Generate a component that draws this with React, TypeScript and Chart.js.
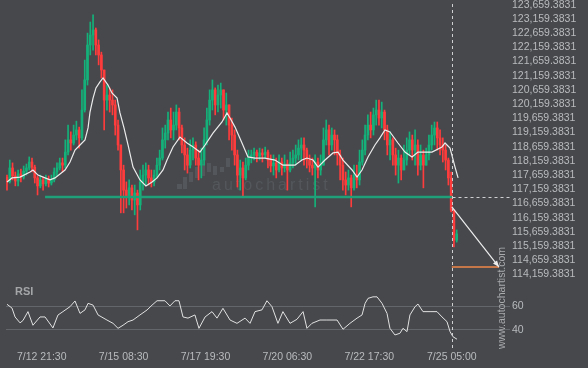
import React, { useEffect, useRef } from 'react';
import { Chart, registerables } from 'chart.js';
Chart.register(...registerables);

// ---------- DATA ----------
const CANDLE_HOURS = 2; // hours per candle, hour 0 = 7/11 20:30
const firstOpen = 117590;
const closes = [
  117420, 117910, 117630, 117450, 117700, 117590, 117800, 117910, 118120, 117940,
  117560, 117280, 117490, 117350, 117520, 117380, 117490, 117770, 117910, 118090,
  118010, 118470, 118900, 118790, 119070, 119250, 118970, 119950, 121010, 122240,
  122590, 122770, 122240, 121890, 121360, 120300, 120480, 120300, 120130, 119420,
  118720, 117840, 117130, 116920, 117210, 116780, 117030, 116610, 117420, 117660,
  117840, 117560, 117420, 117660, 118010, 118260, 118900, 119140, 119600, 119250,
  119420, 119880, 119320, 118720, 118370, 118010, 118540, 118720, 118260, 118010,
  118190, 118900, 119600, 120300, 120660, 120130, 120480, 120660, 119950, 120130,
  119420, 119070, 118370, 117660, 117910, 117560, 118010, 118260, 118370, 118470,
  118330, 118440, 118370, 118470, 118190, 117980, 118090, 117840, 118120, 117910,
  118050, 117840, 118090, 118260, 118370, 118610, 118720, 118540, 118190, 118010,
  117910, 118120, 117840, 118010, 118900, 119250, 118720, 119070, 118900, 118370,
  118010, 117490, 117310, 117560, 117210, 117660, 117490, 118120, 118540, 119070,
  119420, 119250, 119780, 119950, 119670, 119880, 119250, 118720, 118900, 118370,
  118010, 118260, 117840, 118190, 118540, 118900, 118540, 118720, 118010, 118370,
  118010, 118370, 118720, 119070, 119320, 118970, 118720, 118540, 118190, 117560,
  116430, 115370, 115590,
];
const highs = [
  117660, 118190, 118090, 117770, 117840, 117870, 117980, 118050, 118300, 118260,
  118010, 117630, 117660, 117590, 117660, 117630, 117660, 117910, 118090, 118260,
  118260, 118900, 119420, 119180, 119420, 119560, 119350, 120660, 121710, 122660,
  123050, 123300, 122840, 122420, 121990, 121360, 120830, 120730, 120660, 120300,
  119600, 118720, 118010, 117420, 117490, 117310, 117310, 117130, 117840, 118010,
  118090, 118010, 117840, 117840, 118260, 118540, 119320, 119420, 119880, 120020,
  119880, 120130, 120020, 119420, 118970, 118610, 118900, 118970, 118830, 118540,
  118610, 119320, 120020, 120660, 121010, 120730, 120830, 120900, 120590, 120550,
  120130, 119670, 119250, 118540, 118190, 118120, 118260, 118540, 118540, 118610,
  118540, 118610, 118580, 118650, 118540, 118370, 118370, 118260, 118370, 118260,
  118370, 118190, 118470, 118540, 118720, 118900, 118970, 118970, 118610, 118370,
  118260, 118370, 118260, 118370, 119320, 119600, 119420, 119320, 119250, 119070,
  118540, 118260, 117770, 117840, 117660, 118010, 118010, 118540, 118900, 119420,
  119780, 119880, 120020, 120300, 120300, 120230, 119950, 119420, 119180, 118970,
  118610, 118540, 118370, 118720, 118970, 119180, 119070, 119250, 118900, 118720,
  118540, 118610, 119070, 119420, 119530, 119530, 119250, 118970, 118720, 118260,
  117770, 116430, 115730,
];
const lows = [
  117130, 117380, 117490, 117280, 117280, 117420, 117520, 117660, 117840, 117770,
  117380, 116960, 117210, 117130, 117280, 117240, 117310, 117420, 117630, 117840,
  117770, 117910, 118370, 118540, 118720, 118900, 118610, 118900, 119880, 120830,
  121890, 122060, 121890, 121540, 121080, 119250, 119950, 119880, 119780, 119070,
  118540, 116330, 116330, 116500, 116610, 116430, 116260, 115730, 116430, 117130,
  117310, 117310, 117240, 117280, 117560, 117840, 118190, 118610, 118900, 118970,
  118900, 119250, 118900, 118440, 117840, 117730, 117910, 118190, 118010, 117490,
  117560, 118010, 118720, 119420, 119950, 119780, 119880, 120020, 119600, 119420,
  118900, 118540, 118010, 117240, 117130, 116890, 117490, 117840, 118090, 118190,
  118120, 118190, 118120, 118260, 117910, 117770, 117660, 117560, 117770, 117660,
  117770, 117130, 117770, 117910, 118010, 118190, 118190, 118010, 117910, 117770,
  117660, 116540, 117560, 117660, 118010, 118720, 118370, 118540, 118370, 118010,
  117490, 117130, 116960, 117130, 116540, 117130, 117210, 117310, 118010, 118370,
  118900, 118970, 119070, 119420, 119420, 119320, 118900, 118370, 118190, 118010,
  117660, 117380, 117490, 117910, 118010, 118370, 118190, 118010, 117660, 117840,
  117210, 118010, 118190, 118540, 118720, 118540, 118370, 118120, 117840, 117310,
  116360, 115130, 115300,
];

const maHours = [0, 3.6, 9.4, 16.6, 18.7, 22.3, 27.4, 31, 34.6, 38.2, 41.8, 45.4, 49, 52.6, 56.2, 58.4, 59.8, 62, 64.1, 67, 69.2, 72.8, 75.6, 79.3, 81.4, 84.3, 87.2, 90.8, 95.8, 100.1, 104.5, 108.1, 112.4, 115.3, 119.6, 124.6, 129.7, 133.3, 139, 142.7, 148.4, 154.9, 158.5, 160.7, 164.3, 169.3, 173.6, 178.7, 185.9, 193.1, 198.8, 207.5, 212.5, 216.1, 220.5, 224.1, 229.1, 234.9, 238.5, 242.1, 248.6, 252.2, 255.8, 260.1, 265.1, 268.7, 272.3, 275.9, 281.7, 286.7, 291.8, 296.1, 302.6, 306.2, 313.4, 315.6, 319.2, 322.8, 325];
const maValues = [117420, 117560, 117590, 117770, 117840, 117660, 117560, 117490, 117560, 117700, 117840, 118120, 118540, 118720, 118900, 119320, 119880, 120370, 120730, 120940, 121080, 120830, 120550, 120370, 119850, 119320, 118720, 117940, 117490, 117280, 117420, 117560, 117840, 118190, 118650, 119000, 118790, 118680, 118470, 118720, 119140, 119530, 119850, 119670, 119350, 118790, 118300, 118260, 118260, 118190, 118010, 118010, 118190, 118260, 118190, 117940, 118190, 118440, 118470, 118190, 117840, 117590, 117840, 118300, 118720, 118970, 119250, 119180, 118790, 118470, 118300, 118470, 118470, 118470, 118650, 118790, 118610, 117940, 117560];

const rsiHours = [0, 3.6, 5.8, 9.4, 11.5, 15.1, 18.7, 23.8, 27.4, 33.1, 36.7, 40.3, 45.4, 49, 52.6, 56.2, 58.4, 62, 65.6, 72, 76.4, 80, 83.6, 87.2, 90.8, 95.8, 100.9, 104.5, 108.1, 113.8, 117.4, 121, 123.9, 126.8, 130.4, 135.4, 138.3, 142.7, 147.7, 151.3, 155.6, 160.7, 165.7, 171.5, 175.1, 178.7, 183.7, 187.3, 190.9, 195.2, 198.8, 203.9, 208.9, 213.3, 216.1, 219.7, 225.5, 230.5, 237.8, 242.1, 247.1, 252.2, 255.8, 258, 260.1, 263.7, 266.6, 270.2, 273.8, 275.9, 279.5, 283.1, 285.3, 288.2, 290.3, 294, 296.1, 299.7, 304.8, 309.8, 313.4, 317, 319.2, 321.3, 324.2];
const rsiValues = [61.7, 58.5, 51, 46, 48, 55.5, 44, 51, 51, 41.7, 52.6, 55.5, 59.7, 64.5, 54, 57, 62.5, 61, 52.7, 48.4, 45.6, 41.4, 44, 47, 48.4, 52.7, 56.9, 61, 64.7, 64.7, 60.3, 64.7, 64.7, 51, 50, 52.7, 41.4, 51, 55.5, 50, 58.3, 48.4, 45.6, 50, 45.6, 55.5, 57, 64.7, 59.7, 45.6, 55.5, 45.6, 49, 55.5, 41.4, 45.6, 48.4, 48.4, 48.4, 40.6, 45.6, 50, 52.7, 62.5, 66.7, 68, 68, 62.5, 54, 41.4, 35.8, 37.2, 41.4, 38.6, 52.7, 59.7, 61.9, 55.5, 55.5, 55.5, 51, 47, 38.6, 34.3, 32.2];

const priceTicks = [123659.3831, 123159.3831, 122659.3831, 122159.3831, 121659.3831, 121159.3831, 120659.3831, 120159.3831, 119659.3831, 119159.3831, 118659.3831, 118159.3831, 117659.3831, 117159.3831, 116659.3831, 116159.3831, 115659.3831, 115159.3831, 114659.3831, 114159.3831];
const rsiTicks = [40, 60];
const timeTickHours = [25, 84, 143, 202, 261, 320.5];
const timeLabels = ['7/12 21:30', '7/15 08:30', '7/17 19:30', '7/20 06:30', '7/22 17:30', '7/25 05:00'];

const supportPrice = 116890;
const supportStartHour = 27.4;
const breakHour = 320.5;
const arrowHours = [320.5, 354.5];
const arrowPrices = [116540, 114420];
const targetPrice = 114420;

// ---------- STYLE ----------
const BG = '#46484c';
const GREEN = '#14b27a';
const RED = '#ff3c3c';
const TEXT = '#b9bbbd';
const FONT = "'Liberation Sans', Arial, sans-serif";
const X_MIN = -0.72;
const X_MAX = 362.4;

const fmt = new Intl.NumberFormat('en-US', { minimumFractionDigits: 4, maximumFractionDigits: 4 });

function drawWatermark(ctx: CanvasRenderingContext2D, offsetY: number) {
  ctx.save();
  ctx.translate(502.5, 298 + offsetY);
  ctx.rotate(-Math.PI / 2);
  ctx.font = `10.5px ${FONT}`;
  ctx.fillStyle = '#a9abad';
  ctx.textAlign = 'center';
  ctx.textBaseline = 'middle';
  ctx.fillText('www.autochartist.com', 0, 0);
  ctx.restore();
}

function drawDash(ctx: CanvasRenderingContext2D, x1: number, y1: number, x2: number, y2: number) {
  ctx.save();
  ctx.strokeStyle = '#cfd0d2';
  ctx.lineWidth = 1;
  ctx.setLineDash([3, 3]);
  ctx.beginPath();
  ctx.moveTo(x1, y1);
  ctx.lineTo(x2, y2);
  ctx.stroke();
  ctx.restore();
}

const priceOverlay = {
  id: 'priceOverlay',
  beforeDatasetsDraw(chart: any) {
    const ctx: CanvasRenderingContext2D = chart.ctx;
    ctx.save();
    ctx.fillStyle = '#54575b';
    const bars = [[177, 184, 5, 5], [183, 177, 4, 12], [189, 172, 4, 10], [195, 167, 4, 11], [201, 164, 4, 12], [207, 163, 4, 9], [213, 166, 4, 9], [220, 167, 4, 5], [226, 158, 4, 9]];
    bars.forEach(([bx, by, bw, bh]) => ctx.fillRect(bx, by, bw, bh));
    ctx.font = `16px ${FONT}`;
    (ctx as any).letterSpacing = '3px';
    ctx.textBaseline = 'alphabetic';
    ctx.fillText('autochartist', 212, 190);
    ctx.restore();
  },
  afterDatasetsDraw(chart: any) {
    const ctx: CanvasRenderingContext2D = chart.ctx;
    const { x, y } = chart.scales;
    const area = chart.chartArea;
    const bx = Math.round(x.getPixelForValue(breakHour)) + 0.5;
    drawDash(ctx, bx, 4, bx, chart.height);
    const sy = Math.round(y.getPixelForValue(supportPrice)) + 0.5;
    drawDash(ctx, bx, sy, area.right, sy);
    // arrow head
    const x0 = x.getPixelForValue(arrowHours[0]);
    const y0 = y.getPixelForValue(arrowPrices[0]);
    const x1 = x.getPixelForValue(arrowHours[1]);
    const y1 = y.getPixelForValue(arrowPrices[1]);
    const a = Math.atan2(y1 - y0, x1 - x0);
    const L = 7;
    ctx.save();
    ctx.fillStyle = '#eeeeee';
    ctx.beginPath();
    ctx.moveTo(x1, y1);
    ctx.lineTo(x1 - L * Math.cos(a - 0.38), y1 - L * Math.sin(a - 0.38));
    ctx.lineTo(x1 - L * Math.cos(a + 0.38), y1 - L * Math.sin(a + 0.38));
    ctx.closePath();
    ctx.fill();
    ctx.restore();
    drawWatermark(ctx, 0);
  },
};

const rsiOverlay = {
  id: 'rsiOverlay',
  afterDatasetsDraw(chart: any) {
    const ctx: CanvasRenderingContext2D = chart.ctx;
    const { x } = chart.scales;
    ctx.save();
    ctx.font = `bold 11px ${FONT}`;
    ctx.fillStyle = '#a4a6a8';
    ctx.textBaseline = 'middle';
    ctx.fillText('RSI', 15, 6.5);
    ctx.restore();
    const bx = Math.round(x.getPixelForValue(breakHour)) + 0.5;
    drawDash(ctx, bx, 0, bx, chart.chartArea.bottom + 5);
    drawWatermark(ctx, -285);
  },
};

export default function App() {
  const priceRef = useRef<HTMLCanvasElement>(null);
  const rsiRef = useRef<HTMLCanvasElement>(null);

  useEffect(() => {
    const candleHours = closes.map((_, i) => i * CANDLE_HOURS);
    const opens = closes.map((_, i) => (i === 0 ? firstOpen : closes[i - 1]));
    const colors = closes.map((c, i) => (c >= opens[i] ? GREEN : RED));
    const wickData = closes.map((c, i) => ({
      x: candleHours[i],
      y: [Math.min(lows[i], opens[i], c), Math.max(highs[i], opens[i], c)],
    }));
    const bodyData = closes.map((c, i) => ({ x: candleHours[i], y: [opens[i], c] }));
    const maData = maHours.map((h, i) => ({ x: h, y: maValues[i] }));
    const rsiData = rsiHours.map((h, i) => ({ x: h, y: rsiValues[i] }));

    const tickFont = { family: FONT, size: 10.5 };

    const priceChart = new Chart(priceRef.current as HTMLCanvasElement, {
      type: 'bar',
      data: {
        datasets: [
          { type: 'line', data: maData, borderColor: '#ececec', borderWidth: 1.2, pointRadius: 0, order: 1 } as any,
          { type: 'line', data: arrowHours.map((h, i) => ({ x: h, y: arrowPrices[i] })), borderColor: '#eeeeee', borderWidth: 1.2, pointRadius: 0, order: 0 } as any,
          { type: 'line', data: arrowHours.map((h) => ({ x: h, y: targetPrice })), borderColor: '#f0874a', borderWidth: 1.5, pointRadius: 0, order: 0 } as any,
          { type: 'line', data: [{ x: supportStartHour, y: supportPrice }, { x: breakHour, y: supportPrice }], borderColor: '#1fa078', borderWidth: 2.5, pointRadius: 0, order: 2 } as any,
          { type: 'bar', data: bodyData, backgroundColor: colors, borderWidth: 0, barThickness: 2, grouped: false, minBarLength: 1, order: 3 } as any,
          { type: 'bar', data: wickData, backgroundColor: colors, borderWidth: 0, barThickness: 1, grouped: false, order: 4 } as any,
        ],
      },
      options: {
        animation: false,
        responsive: false,
        maintainAspectRatio: false,
        events: [],
        layout: { padding: { left: 6, right: 0, top: 0, bottom: 0 } },
        plugins: { legend: { display: false }, tooltip: { enabled: false } },
        scales: {
          x: { type: 'linear', min: X_MIN, max: X_MAX, display: false, offset: false },
          y: {
            type: 'linear',
            position: 'right',
            min: 113790,
            max: 123825,
            grid: { display: false, drawTicks: false },
            border: { display: false },
            ticks: {
              autoSkip: false,
              padding: 2,
              color: TEXT,
              font: tickFont,
              callback: (v: any) => fmt.format(Number(v)),
            },
            afterBuildTicks: (s: any) => { s.ticks = priceTicks.map((v) => ({ value: v })); },
            afterFit: (s: any) => { s.width = 78; s.paddingTop = 0; s.paddingBottom = 0; },
          },
        },
      } as any,
      plugins: [priceOverlay],
    });

    const rsiChart = new Chart(rsiRef.current as HTMLCanvasElement, {
      type: 'line',
      data: {
        datasets: [
          { data: rsiData, borderColor: '#e2e2e2', borderWidth: 1, pointRadius: 0, tension: 0 },
        ],
      },
      options: {
        animation: false,
        responsive: false,
        maintainAspectRatio: false,
        events: [],
        layout: { padding: { left: 6, right: 0, top: 0, bottom: 0 } },
        plugins: { legend: { display: false }, tooltip: { enabled: false } },
        scales: {
          x: {
            type: 'linear',
            min: X_MIN,
            max: X_MAX,
            offset: false,
            grid: { display: false, drawTicks: false },
            border: { display: false },
            ticks: {
              autoSkip: false,
              maxRotation: 0,
              padding: 6,
              color: TEXT,
              font: tickFont,
              callback: (_v: any, i: number) => timeLabels[i],
            },
            afterBuildTicks: (s: any) => { s.ticks = timeTickHours.map((v) => ({ value: v })); },
            afterFit: (s: any) => { s.height = 23; s.paddingLeft = 0; s.paddingRight = 0; },
          },
          y: {
            type: 'linear',
            position: 'right',
            min: 27.3,
            max: 78,
            grid: { color: '#63666a', drawTicks: false },
            border: { display: false },
            ticks: { autoSkip: false, padding: 2, color: TEXT, font: tickFont },
            afterBuildTicks: (s: any) => { s.ticks = rsiTicks.map((v) => ({ value: v })); },
            afterFit: (s: any) => { s.width = 78; s.paddingTop = 0; s.paddingBottom = 0; },
          },
        },
      } as any,
      plugins: [rsiOverlay],
    });

    return () => {
      priceChart.destroy();
      rsiChart.destroy();
    };
  }, []);

  return (
    <div style={{ position: 'fixed', left: 0, top: 0, width: 588, height: 368, background: BG, overflow: 'hidden' }}>
      <canvas ref={priceRef} width={588} height={285} style={{ position: 'absolute', left: 0, top: 0, width: 588, height: 285 }} />
      <canvas ref={rsiRef} width={588} height={83} style={{ position: 'absolute', left: 0, top: 285, width: 588, height: 83 }} />
    </div>
  );
}
